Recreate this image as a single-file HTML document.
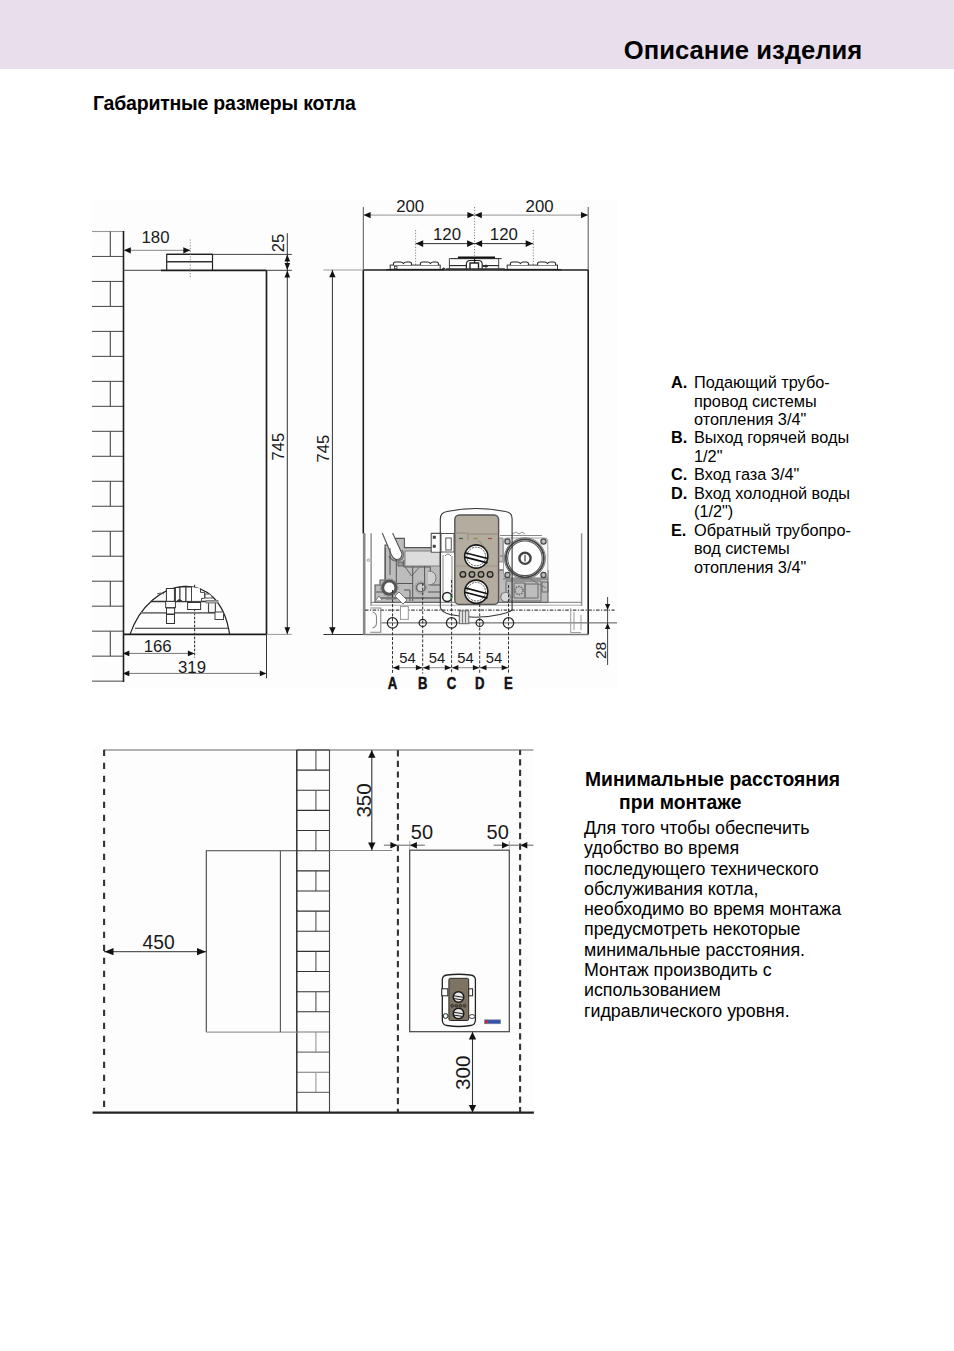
<!DOCTYPE html>
<html><head><meta charset="utf-8">
<style>
html,body{margin:0;padding:0;background:#fff;}
body{width:954px;height:1351px;position:relative;overflow:hidden;font-family:"Liberation Sans",sans-serif;color:#000;}
.t{position:absolute;white-space:nowrap;}
#hdr{position:absolute;left:0;top:0;width:954px;height:69px;background:#e8deec;}
#h1{left:623.8px;top:34.5px;font-size:25.6px;font-weight:bold;line-height:30px;}
#h2{left:93px;top:91px;font-size:19.5px;letter-spacing:-0.21px;font-weight:bold;line-height:24px;}
#leg{position:absolute;left:671px;top:0;font-size:16.3px;line-height:18.45px;}
#leg div{position:absolute;left:0;height:18.45px;white-space:nowrap;}
#leg b{position:absolute;left:0;top:0;}
#leg span{position:absolute;left:23px;top:0;}
#h3{left:585px;top:768px;font-size:19.3px;font-weight:bold;line-height:23px;}
#body{left:584px;top:818px;font-size:17.84px;line-height:20.3px;}
svg{position:absolute;left:0;top:0;}
</style></head>
<body>
<div id="hdr"></div>
<div class="t" id="h1">Описание изделия</div>
<div class="t" id="h2">Габаритные размеры котла</div>
<div id="leg">
<div style="top:373.40px"><b>A.</b><span>Подающий трубо-</span></div>
<div style="top:392.30px"><span>провод системы</span></div>
<div style="top:410.40px"><span>отопления 3/4"</span></div>
<div style="top:428.20px"><b>B.</b><span>Выход горячей воды</span></div>
<div style="top:447.10px"><span>1/2"</span></div>
<div style="top:464.90px"><b>C.</b><span>Вход газа 3/4"</span></div>
<div style="top:484.40px"><b>D.</b><span>Вход холодной воды</span></div>
<div style="top:502.40px"><span>(1/2")</span></div>
<div style="top:521.10px"><b>E.</b><span>Обратный трубопро-</span></div>
<div style="top:539.40px"><span>вод системы</span></div>
<div style="top:558.10px"><span>отопления 3/4"</span></div>
</div>
<div class="t" id="h3">Минимальные расстояния<br><span style="padding-left:34px">при монтаже</span></div>
<div class="t" id="body">Для того чтобы обеспечить<br>удобство во время<br>последующего технического<br>обслуживания котла,<br>необходимо во время монтажа<br>предусмотреть некоторые<br>минимальные расстояния.<br>Монтаж производить с<br>использованием<br>гидравлического уровня.</div>
<svg width="954" height="1351" viewBox="0 0 954 1351" font-family="Liberation Sans, sans-serif">
<rect x="92" y="200" width="525" height="489" fill="#fdfdfd"/>
<rect x="92" y="749" width="442" height="365" fill="#fdfdfd"/>
<line x1="92" y1="231.5" x2="123.5" y2="231.5" stroke="#999" stroke-width="1.1" />
<line x1="110.3" y1="231.5" x2="110.3" y2="256.48" stroke="#444" stroke-width="1.1" />
<line x1="92" y1="256.48" x2="123.5" y2="256.48" stroke="#555" stroke-width="1.1" />
<line x1="92" y1="281.46" x2="123.5" y2="281.46" stroke="#555" stroke-width="1.1" />
<line x1="110.3" y1="281.46" x2="110.3" y2="306.44" stroke="#444" stroke-width="1.1" />
<line x1="92" y1="306.44" x2="123.5" y2="306.44" stroke="#555" stroke-width="1.1" />
<line x1="92" y1="331.42" x2="123.5" y2="331.42" stroke="#555" stroke-width="1.1" />
<line x1="110.3" y1="331.42" x2="110.3" y2="356.40000000000003" stroke="#444" stroke-width="1.1" />
<line x1="92" y1="356.4" x2="123.5" y2="356.4" stroke="#555" stroke-width="1.1" />
<line x1="92" y1="381.38" x2="123.5" y2="381.38" stroke="#555" stroke-width="1.1" />
<line x1="110.3" y1="381.38" x2="110.3" y2="406.36" stroke="#444" stroke-width="1.1" />
<line x1="92" y1="406.36" x2="123.5" y2="406.36" stroke="#555" stroke-width="1.1" />
<line x1="92" y1="431.34000000000003" x2="123.5" y2="431.34000000000003" stroke="#555" stroke-width="1.1" />
<line x1="110.3" y1="431.34000000000003" x2="110.3" y2="456.32000000000005" stroke="#444" stroke-width="1.1" />
<line x1="92" y1="456.32" x2="123.5" y2="456.32" stroke="#555" stroke-width="1.1" />
<line x1="92" y1="481.3" x2="123.5" y2="481.3" stroke="#555" stroke-width="1.1" />
<line x1="110.3" y1="481.3" x2="110.3" y2="506.28000000000003" stroke="#444" stroke-width="1.1" />
<line x1="92" y1="506.28000000000003" x2="123.5" y2="506.28000000000003" stroke="#555" stroke-width="1.1" />
<line x1="92" y1="531.26" x2="123.5" y2="531.26" stroke="#555" stroke-width="1.1" />
<line x1="110.3" y1="531.26" x2="110.3" y2="556.24" stroke="#444" stroke-width="1.1" />
<line x1="92" y1="556.24" x2="123.5" y2="556.24" stroke="#555" stroke-width="1.1" />
<line x1="92" y1="581.22" x2="123.5" y2="581.22" stroke="#555" stroke-width="1.1" />
<line x1="110.3" y1="581.22" x2="110.3" y2="606.2" stroke="#444" stroke-width="1.1" />
<line x1="92" y1="606.2" x2="123.5" y2="606.2" stroke="#555" stroke-width="1.1" />
<line x1="92" y1="631.1800000000001" x2="123.5" y2="631.1800000000001" stroke="#555" stroke-width="1.1" />
<line x1="110.3" y1="631.1800000000001" x2="110.3" y2="656.1600000000001" stroke="#444" stroke-width="1.1" />
<line x1="92" y1="656.1600000000001" x2="123.5" y2="656.1600000000001" stroke="#555" stroke-width="1.1" />
<line x1="92" y1="681.14" x2="123.5" y2="681.14" stroke="#555" stroke-width="1.1" />
<line x1="123.5" y1="231" x2="123.5" y2="682" stroke="#1e1e1e" stroke-width="1.6" />
<line x1="123.5" y1="270.3" x2="161" y2="270.3" stroke="#444" stroke-width="1" />
<line x1="161" y1="270.3" x2="266.5" y2="270.3" stroke="#1e1e1e" stroke-width="1.7" />
<line x1="266.5" y1="270.3" x2="266.5" y2="634.4" stroke="#1e1e1e" stroke-width="1.7" />
<line x1="123.5" y1="634.4" x2="266.5" y2="634.4" stroke="#1e1e1e" stroke-width="1.7" />
<path d="M166.7,270.3 V254.4 H212.5 V270.3" fill="none" stroke="#222" stroke-width="1.2"/>
<line x1="166.7" y1="254.4" x2="212.5" y2="254.4" stroke="#1e1e1e" stroke-width="1.3" />
<line x1="166.7" y1="261.8" x2="212.5" y2="261.8" stroke="#333" stroke-width="1.5" />
<line x1="190.3" y1="239.5" x2="190.3" y2="279" stroke="#777" stroke-width="0.9" stroke-dasharray="1.2,1.6"/>
<line x1="123.5" y1="250.3" x2="190.3" y2="250.3" stroke="#777" stroke-width="0.9" />
<polygon points="123.80,250.30 130.80,247.20 130.80,253.40" fill="#111"/>
<polygon points="190.30,250.30 183.30,247.20 183.30,253.40" fill="#111"/>
<text x="155.5" y="243.2" text-anchor="middle" font-size="16.8" font-weight="normal" fill="#1a1a1a">180</text>
<line x1="212.5" y1="254.4" x2="291.8" y2="254.4" stroke="#444" stroke-width="1" />
<line x1="266.5" y1="270.3" x2="291.8" y2="270.3" stroke="#444" stroke-width="1" />
<line x1="287.3" y1="233.2" x2="287.3" y2="634.4" stroke="#333" stroke-width="1" />
<polygon points="287.30,254.60 284.50,261.60 290.10,261.60" fill="#111"/>
<polygon points="287.30,270.10 284.50,263.10 290.10,263.10" fill="#111"/>
<polygon points="287.30,270.50 284.50,277.50 290.10,277.50" fill="#111"/>
<polygon points="287.30,634.20 284.50,627.20 290.10,627.20" fill="#111"/>
<text transform="translate(284,243) rotate(-90)" text-anchor="middle" font-size="16.5" font-weight="normal" fill="#1a1a1a">25</text>
<text transform="translate(284,446.7) rotate(-90)" text-anchor="middle" font-size="16.5" font-weight="normal" fill="#1a1a1a">745</text>
<line x1="266.5" y1="634.4" x2="291.7" y2="634.4" stroke="#999" stroke-width="1" />
<line x1="266.5" y1="634.4" x2="266.5" y2="678.2" stroke="#333" stroke-width="1" />
<line x1="194.6" y1="584.7" x2="194.6" y2="657.6" stroke="#333" stroke-width="1.1" stroke-dasharray="2.5,1.5"/>
<line x1="124" y1="653.4" x2="194.6" y2="653.4" stroke="#666" stroke-width="0.9" />
<polygon points="122.80,653.40 129.30,650.50 129.30,656.30" fill="#111"/>
<polygon points="194.40,653.40 187.90,650.50 187.90,656.30" fill="#111"/>
<text x="157.7" y="651.6" text-anchor="middle" font-size="16.8" font-weight="normal" fill="#1a1a1a">166</text>
<line x1="124" y1="673.4" x2="266.5" y2="673.4" stroke="#666" stroke-width="0.9" />
<polygon points="122.80,673.40 129.30,670.50 129.30,676.30" fill="#111"/>
<polygon points="266.30,673.40 259.80,670.50 259.80,676.30" fill="#111"/>
<text x="192" y="672.8" text-anchor="middle" font-size="16.8" font-weight="normal" fill="#1a1a1a">319</text>
<path d="M130,634.4 C150.1,576.3 219.3,564.5 229.6,634.3" fill="none" stroke="#222" stroke-width="1.2"/>
<line x1="135" y1="628.3" x2="228.4" y2="628.3" stroke="#333" stroke-width="1.1" />
<line x1="141" y1="612.9" x2="224" y2="612.9" stroke="#777" stroke-width="1.6" />
<line x1="151" y1="601.4" x2="216.7" y2="601.4" stroke="#333" stroke-width="1.5" />
<rect x="166.4" y="588.5" width="8" height="12.9" stroke="#333" stroke-width="1" fill="#fff" />
<rect x="175.4" y="587.5" width="4.6" height="13.9" stroke="#333" stroke-width="1" fill="#fff" />
<rect x="180" y="587" width="6" height="14.4" stroke="#333" stroke-width="1" fill="#fff" />
<rect x="186" y="587" width="5.5" height="14.4" stroke="#333" stroke-width="1" fill="#fff" />
<rect x="165.7" y="601.4" width="9.7" height="6.3" stroke="#333" stroke-width="1" fill="#fff" />
<rect x="166.5" y="608" width="8.1" height="6" stroke="#333" stroke-width="1" fill="#fff" />
<rect x="166.5" y="614.5" width="8" height="9" stroke="#333" stroke-width="1" fill="#fff" />
<path d="M191.5,587 v14.4 h10 v-3 h3 v-6 h-4 v-4" fill="#fff" stroke="#444" stroke-width="1"/>
<path d="M157,594 q3,-2 7,0" fill="none" stroke="#555" stroke-width="1"/>
<path d="M205,594 h5 l3,4 h-8 z" fill="#fff" stroke="#555" stroke-width="1"/>
<rect x="187.6" y="602.5" width="13" height="7" stroke="#333" stroke-width="1" fill="#fff" />
<rect x="208.5" y="602" width="6.9" height="10.5" stroke="#444" stroke-width="1.1" fill="#f4f4f4" />
<rect x="215" y="612" width="8.5" height="7.5" stroke="#444" stroke-width="1" fill="#fff" />
<rect x="206" y="600.5" width="12" height="2.5" stroke="#777" stroke-width="0.8" fill="#aaa" />
<path d="M177,601 q2,-3 5,0" fill="#333" stroke="#333" stroke-width="1"/>
<line x1="363.3" y1="270" x2="588.2" y2="270" stroke="#1e1e1e" stroke-width="1.5" />
<line x1="363.3" y1="207" x2="363.3" y2="270" stroke="#555" stroke-width="1" />
<line x1="363.3" y1="270" x2="363.3" y2="533.5" stroke="#1e1e1e" stroke-width="1.6" />
<line x1="588.2" y1="207" x2="588.2" y2="270" stroke="#555" stroke-width="1" />
<line x1="588.2" y1="270" x2="588.2" y2="634.5" stroke="#1e1e1e" stroke-width="1.6" />
<line x1="363.3" y1="634.5" x2="588.2" y2="634.5" stroke="#777" stroke-width="1.5" />
<line x1="363.3" y1="215.1" x2="588.2" y2="215.1" stroke="#888" stroke-width="0.9" />
<polygon points="363.60,215.10 370.60,211.90 370.60,218.30" fill="#111"/>
<polygon points="474.40,215.10 467.40,211.90 467.40,218.30" fill="#111"/>
<polygon points="474.80,215.10 481.80,211.90 481.80,218.30" fill="#111"/>
<polygon points="588.00,215.10 581.00,211.90 581.00,218.30" fill="#111"/>
<text x="410.2" y="212.3" text-anchor="middle" font-size="16.8" font-weight="normal" fill="#1a1a1a">200</text>
<text x="539.6" y="212.3" text-anchor="middle" font-size="16.8" font-weight="normal" fill="#1a1a1a">200</text>
<line x1="474.6" y1="207" x2="474.6" y2="270" stroke="#777" stroke-width="0.9" stroke-dasharray="1.2,1.6"/>
<line x1="415.6" y1="230" x2="415.6" y2="270" stroke="#777" stroke-width="0.9" stroke-dasharray="1.2,1.6"/>
<line x1="533.3" y1="230" x2="533.3" y2="270" stroke="#777" stroke-width="0.9" stroke-dasharray="1.2,1.6"/>
<line x1="415.6" y1="243.6" x2="533.3" y2="243.6" stroke="#333" stroke-width="1" />
<polygon points="415.90,243.60 423.20,240.20 423.20,247.00" fill="#111"/>
<polygon points="474.40,243.60 467.10,240.20 467.10,247.00" fill="#111"/>
<polygon points="474.80,243.60 482.10,240.20 482.10,247.00" fill="#111"/>
<polygon points="533.00,243.60 525.70,240.20 525.70,247.00" fill="#111"/>
<text x="447" y="240.0" text-anchor="middle" font-size="16.8" font-weight="normal" fill="#1a1a1a">120</text>
<text x="503.8" y="240.0" text-anchor="middle" font-size="16.8" font-weight="normal" fill="#1a1a1a">120</text>
<line x1="323.4" y1="270" x2="363.3" y2="270" stroke="#999" stroke-width="1" />
<line x1="323.4" y1="634.5" x2="363.3" y2="634.5" stroke="#333" stroke-width="1" />
<line x1="332.4" y1="270" x2="332.4" y2="634.5" stroke="#333" stroke-width="1" />
<polygon points="332.40,270.30 329.20,277.30 335.60,277.30" fill="#111"/>
<polygon points="332.40,634.20 329.20,627.20 335.60,627.20" fill="#111"/>
<text transform="translate(329.2,448.7) rotate(-90)" text-anchor="middle" font-size="16.5" font-weight="normal" fill="#1a1a1a">745</text>
<rect x="390.2" y="265.1" width="50.0" height="4.2" stroke="#333" stroke-width="1" fill="#fff" />
<line x1="386.2" y1="269.6" x2="444.2" y2="269.6" stroke="#222" stroke-width="1.2" />
<rect x="507.2" y="265.1" width="50.30000000000001" height="4.2" stroke="#333" stroke-width="1" fill="#fff" />
<line x1="503.2" y1="269.6" x2="561.5" y2="269.6" stroke="#222" stroke-width="1.2" />
<path d="M393.5,265.1 v-1.5 q0,-1.6 2,-1.6 h5 q2,0 3,1.5 q1,-1.5 3,-1.5 h3 q2,0 2,1.6 v1.5" fill="#fff" stroke="#222" stroke-width="1.1"/>
<path d="M420.4,265.1 v-1.5 q0,-1.6 2,-1.6 h5 q2,0 3,1.5 q1,-1.5 3,-1.5 h3 q2,0 2,1.6 v1.5" fill="#fff" stroke="#222" stroke-width="1.1"/>
<path d="M510.4,265.1 v-1.5 q0,-1.6 2,-1.6 h5 q2,0 3,1.5 q1,-1.5 3,-1.5 h3 q2,0 2,1.6 v1.5" fill="#fff" stroke="#222" stroke-width="1.1"/>
<path d="M537.6,265.1 v-1.5 q0,-1.6 2,-1.6 h5 q2,0 3,1.5 q1,-1.5 3,-1.5 h3 q2,0 2,1.6 v1.5" fill="#fff" stroke="#222" stroke-width="1.1"/>
<rect x="394.5" y="266.3" width="2.5" height="2.5" stroke="#333" stroke-width="0.8" fill="none" />
<path d="M441.6,269 q2,-3 4.2,0 z" fill="#333"/>
<path d="M449.4,269.3 V258.6 H498.7 V269.3" fill="#fff" stroke="#444" stroke-width="1"/>
<line x1="451" y1="258.6" x2="501.6" y2="258.6" stroke="#333" stroke-width="1" />
<line x1="458" y1="257.4" x2="495" y2="257.4" stroke="#111" stroke-width="1.6" />
<line x1="449.4" y1="265.6" x2="466.4" y2="265.6" stroke="#222" stroke-width="1.1" />
<line x1="482.2" y1="265.6" x2="498.7" y2="265.6" stroke="#222" stroke-width="1.1" />
<path d="M466.4,269.3 v-5 q0,-3.8 3.8,-3.8 h8.2 q3.8,0 3.8,3.8 v5" fill="#fff" stroke="#222" stroke-width="1.2"/>
<path d="M470,269 V263 H478.5 V269" fill="#fff" stroke="#222" stroke-width="1.4"/>
<line x1="474.6" y1="258.5" x2="474.6" y2="263" stroke="#222" stroke-width="1.3" />
<line x1="446" y1="269.2" x2="505" y2="269.2" stroke="#333" stroke-width="1.8" />
<path d="M483,266.5 h5 M486,264.5 v4" stroke="#333" stroke-width="1"/>
<line x1="371.1" y1="533.3" x2="371.1" y2="606" stroke="#8d8d8d" stroke-width="1.4" />
<line x1="581.6" y1="533.3" x2="581.6" y2="606" stroke="#8d8d8d" stroke-width="1.4" />
<line x1="364.2" y1="533" x2="364.2" y2="634.5" stroke="#888" stroke-width="2.6" />
<line x1="371" y1="602.3" x2="581.6" y2="602.3" stroke="#777" stroke-width="1" />
<line x1="371" y1="605.2" x2="581.6" y2="605.2" stroke="#aaa" stroke-width="1" />
<line x1="365" y1="610.2" x2="614.7" y2="610.2" stroke="#444" stroke-width="1.3" stroke-dasharray="3.5,1.5,1.2,1.5"/>
<line x1="381.4" y1="622.9" x2="617" y2="622.9" stroke="#555" stroke-width="1" />
<circle cx="368.4" cy="560.2" r="1.2" fill="none" stroke="#888" stroke-width="0.8"/>
<path d="M385,545 H394.8 V538.4 H404.4 V547.6 H440.5 V602.3 H375 V585 H380 V580 H385 Z" fill="#bcbcbc" stroke="#555" stroke-width="1.1"/>
<path d="M405,551 H440 V566 H405 Z" fill="#dcdcdc" stroke="#777" stroke-width="0.9"/>
<path d="M382.3,533 L391.5,555 Q394.5,561.5 400,558.5 Q403.5,555 400.8,551 L392.6,533" fill="#fff" stroke="#555" stroke-width="1.1"/>
<path d="M389,556 Q394,564 402,559 Q405,555 402,550" fill="none" stroke="#777" stroke-width="1.5"/>
<path d="M405.5,567.5 L411.6,576 L419,567.5" fill="none" stroke="#666" stroke-width="1"/>
<path d="M396.3,560 V583.5 H412.7 V567 M403.8,560 V567 H430.4 V585 M424.6,566 V586 M412.7,583.5 V601 M430.4,585 H440 M404,590 H410 V601 M385.3,548 V580 M390,548 V575 M376,592 H384 M428,592 H440" fill="none" stroke="#555" stroke-width="1"/>
<path d="M379,598 H440" fill="none" stroke="#666" stroke-width="1.6"/>
<path d="M428,571 q8,0 8,7 q0,7 -8,7" fill="#d0d0d0" stroke="#777" stroke-width="1"/>
<path d="M410,598 H440 M386,599 H396" fill="none" stroke="#777" stroke-width="1.2"/>
<path d="M398,562 h5 v4 h-5 z" fill="#999" stroke="#555" stroke-width="0.8"/>
<circle cx="389.3" cy="587.7" r="6.6" fill="#fff" stroke="#555" stroke-width="3"/>
<circle cx="389.3" cy="587.7" r="8.6" fill="none" stroke="#777" stroke-width="1" stroke-dasharray="2,1.5"/>
<circle cx="420.8" cy="587.5" r="4.3" fill="#cfcfcf" stroke="#6a6a6a" stroke-width="1.6"/>
<circle cx="420.8" cy="587.5" r="6" fill="none" stroke="#888" stroke-width="0.9" stroke-dasharray="1.5,1.2"/>
<path d="M395,596 l4,-4 l8,8 l-4,4 z" fill="#fff" stroke="#666" stroke-width="0.9"/>
<path d="M376,600 l3,-4 l3,4" fill="#fff" stroke="#666" stroke-width="0.9"/>
<path d="M431.2,533.4 H441 V552.3 H431.2 Z" fill="#fff" stroke="#555" stroke-width="1.1"/>
<rect x="433" y="536" width="2.6" height="2.6" stroke="#444" stroke-width="0.5" fill="#444" />
<rect x="433" y="545" width="2.6" height="2.6" stroke="#444" stroke-width="0.5" fill="#444" />
<rect x="400.5" y="606.4" width="7.8" height="13" stroke="#999" stroke-width="1" fill="#fff" />
<path d="M498,570 H548 V602.3 H498 Z" fill="#bdbdbd" stroke="#555" stroke-width="1"/>
<path d="M498,538 H503 V562 H498 Z" fill="#c6c6c6" stroke="#777" stroke-width="0.8"/>
<rect x="503.5" y="538" width="44.3" height="39.8" rx="3" fill="#f7f7f7" stroke="#999" stroke-width="0.9"/>
<circle cx="524.9" cy="558.3" r="20.5" fill="none" stroke="#777" stroke-width="1"/>
<circle cx="524.9" cy="558.3" r="19" fill="#fff" stroke="#444" stroke-width="1.8"/>
<circle cx="524.9" cy="558.3" r="17.3" fill="none" stroke="#555" stroke-width="1.1"/>
<circle cx="525" cy="558.3" r="5.6" fill="#fff" stroke="#444" stroke-width="2.4"/>
<line x1="525" y1="555" x2="525" y2="561.5" stroke="#444" stroke-width="1.2" />
<circle cx="507.5" cy="541.5" r="2.6" fill="#bbb" stroke="#444" stroke-width="1.2"/>
<circle cx="543.5" cy="541.5" r="2.6" fill="#bbb" stroke="#444" stroke-width="1.2"/>
<circle cx="507.5" cy="575" r="2.6" fill="#bbb" stroke="#444" stroke-width="1.2"/>
<circle cx="543.5" cy="575" r="2.6" fill="#bbb" stroke="#444" stroke-width="1.2"/>
<path d="M506,581 H541 V601 H506 Z M514,583 H525 V598 H514 Z M525,584 H538 V598 H525 Z M542,582 H548 V592 H542 Z M503,579 L548,579" fill="none" stroke="#6a6a6a" stroke-width="1"/>
<circle cx="519" cy="590.5" r="4" fill="none" stroke="#666" stroke-width="1.5" stroke-dasharray="1.5,1"/>
<path d="M530,579 L546,588 M500,570 H503 M500,556 H503" fill="none" stroke="#777" stroke-width="1"/>
<circle cx="505.5" cy="597" r="4.8" fill="#d8d8d8" stroke="#777" stroke-width="1.1"/>
<path d="M512,534 l4,-2 l3,2 l3,-2 l3,2" fill="none" stroke="#777" stroke-width="0.8"/>
<line x1="500" y1="535.5" x2="542" y2="535.5" stroke="#888" stroke-width="1" />
<path d="M440.3,607 V519 Q440.3,512.5 447,511.5 Q476,505.5 505.5,511.5 Q512.1,512.5 512.1,519 V610" fill="none" stroke="#333" stroke-width="1.1"/>
<path d="M440.3,607 Q441,612 450,614.5 Q476,620 500,614.5 Q509,612.5 512.1,610" fill="none" stroke="#333" stroke-width="1.1"/>
<path d="M441,533.5 H454 V552 H441 Z" fill="#fff" stroke="#555" stroke-width="1"/>
<rect x="445.8" y="538" width="5.5" height="12" stroke="#555" stroke-width="1" fill="#fff" />
<path d="M443,555 V598 M452,556 V598" fill="none" stroke="#888" stroke-width="1"/>
<path d="M445,556 q3,-4 6,0" fill="none" stroke="#777" stroke-width="1"/>
<rect x="454.8" y="515" width="43.8" height="89.4" rx="4.5" fill="#b4ac9e" stroke="#555" stroke-width="1.4"/>
<line x1="455" y1="533" x2="468" y2="533" stroke="#8f887c" stroke-width="1" />
<line x1="455" y1="566" x2="498" y2="566" stroke="#9a9386" stroke-width="0.8" />
<path d="M459,538.5 h4" stroke="#3f6a4a" stroke-width="1.3"/>
<path d="M473.5,538.5 h4" stroke="#8a8a40" stroke-width="1.3"/>
<path d="M488,538.5 h4" stroke="#a05040" stroke-width="1.3"/>
<path d="M468,540 V534 H498 M478,541 q4,1 4,4" fill="none" stroke="#8f887c" stroke-width="1"/>
<circle cx="476.25" cy="556.5" r="11.6" fill="#fff" stroke="#1a1a1a" stroke-width="1.6"/>
<circle cx="476.25" cy="556.5" r="9.3" fill="none" stroke="#555" stroke-width="1" stroke-dasharray="2,1"/>
<path d="M465,552.7 L487.5,558.5 M465,557.1 L487.5,562.9" stroke="#111" stroke-width="1.7"/>
<circle cx="476.25" cy="591.7" r="11.6" fill="#fff" stroke="#1a1a1a" stroke-width="1.6"/>
<circle cx="476.25" cy="591.7" r="9.3" fill="none" stroke="#555" stroke-width="1" stroke-dasharray="2,1"/>
<path d="M465,587.9000000000001 L487.5,593.7 M465,592.3000000000001 L487.5,598.1" stroke="#111" stroke-width="1.7"/>
<circle cx="462.9" cy="574.4" r="2.8" fill="#a39c90" stroke="#222" stroke-width="1.3"/>
<circle cx="472" cy="574.4" r="2.8" fill="#a39c90" stroke="#222" stroke-width="1.3"/>
<circle cx="481" cy="574.4" r="2.8" fill="#a39c90" stroke="#222" stroke-width="1.3"/>
<circle cx="490.1" cy="574.4" r="2.8" fill="#a39c90" stroke="#222" stroke-width="1.3"/>
<circle cx="447.2" cy="597" r="4.5" fill="#fff" stroke="#222" stroke-width="1.5"/>
<path d="M450.5,595 a3,3 0 0 1 0,4" stroke="#3a3" stroke-width="1.5" fill="none"/>
<rect x="459.3" y="610.8" width="9.5" height="12.9" stroke="#666" stroke-width="1" fill="#ddd" />
<line x1="462.5" y1="611" x2="462.5" y2="623.5" stroke="#666" stroke-width="0.8" />
<line x1="465.5" y1="611" x2="465.5" y2="623.5" stroke="#666" stroke-width="0.8" />
<path d="M570.7,608.2 V632.6 H581 M574,612 V630 M581,615 V630" fill="none" stroke="#999" stroke-width="1"/>
<path d="M370.3,608 H380.8 V632.3 H370.3 M372.5,612 q4,1 4,5 v6 q0,4 -4,5" fill="none" stroke="#888" stroke-width="1.1"/>
<line x1="392.5" y1="590" x2="392.5" y2="673.6" stroke="#333" stroke-width="1" stroke-dasharray="3,1.7"/>
<circle cx="392.5" cy="622.9" r="5.2" fill="none" stroke="#222" stroke-width="1.2"/>
<line x1="422.7" y1="583" x2="422.7" y2="673.6" stroke="#333" stroke-width="1" stroke-dasharray="3,1.7"/>
<circle cx="422.7" cy="622.9" r="3.6" fill="none" stroke="#222" stroke-width="1.2"/>
<line x1="451.6" y1="580" x2="451.6" y2="673.6" stroke="#333" stroke-width="1" stroke-dasharray="3,1.7"/>
<circle cx="451.6" cy="622.9" r="5.2" fill="none" stroke="#222" stroke-width="1.2"/>
<line x1="479.7" y1="604" x2="479.7" y2="673.6" stroke="#333" stroke-width="1" stroke-dasharray="3,1.7"/>
<circle cx="479.7" cy="622.9" r="3.6" fill="none" stroke="#222" stroke-width="1.2"/>
<line x1="508.5" y1="585" x2="508.5" y2="673.6" stroke="#333" stroke-width="1" stroke-dasharray="3,1.7"/>
<circle cx="508.5" cy="622.9" r="5.2" fill="none" stroke="#222" stroke-width="1.2"/>
<line x1="392.5" y1="667.7" x2="508.5" y2="667.7" stroke="#888" stroke-width="1" />
<polygon points="392.80,667.70 399.30,665.10 399.30,670.30" fill="#111"/>
<polygon points="422.40,667.70 415.90,665.10 415.90,670.30" fill="#111"/>
<text x="407.40000000000003" y="663.3" text-anchor="middle" font-size="14.8" font-weight="normal" fill="#1a1a1a">54</text>
<polygon points="423.00,667.70 429.50,665.10 429.50,670.30" fill="#111"/>
<polygon points="451.30,667.70 444.80,665.10 444.80,670.30" fill="#111"/>
<text x="436.95" y="663.3" text-anchor="middle" font-size="14.8" font-weight="normal" fill="#1a1a1a">54</text>
<polygon points="451.90,667.70 458.40,665.10 458.40,670.30" fill="#111"/>
<polygon points="479.40,667.70 472.90,665.10 472.90,670.30" fill="#111"/>
<text x="465.45" y="663.3" text-anchor="middle" font-size="14.8" font-weight="normal" fill="#1a1a1a">54</text>
<polygon points="480.00,667.70 486.50,665.10 486.50,670.30" fill="#111"/>
<polygon points="508.20,667.70 501.70,665.10 501.70,670.30" fill="#111"/>
<text x="493.90000000000003" y="663.3" text-anchor="middle" font-size="14.8" font-weight="normal" fill="#1a1a1a">54</text>
<text transform="translate(392.5,688.7) scale(0.8,1)" text-anchor="middle" font-size="16.4" font-weight="bold" fill="#111" stroke="#111" stroke-width="0.5">A</text>
<text transform="translate(422.7,688.7) scale(0.8,1)" text-anchor="middle" font-size="16.4" font-weight="bold" fill="#111" stroke="#111" stroke-width="0.5">B</text>
<text transform="translate(451.6,688.7) scale(0.8,1)" text-anchor="middle" font-size="16.4" font-weight="bold" fill="#111" stroke="#111" stroke-width="0.5">C</text>
<text transform="translate(479.7,688.7) scale(0.8,1)" text-anchor="middle" font-size="16.4" font-weight="bold" fill="#111" stroke="#111" stroke-width="0.5">D</text>
<text transform="translate(508.5,688.7) scale(0.8,1)" text-anchor="middle" font-size="16.4" font-weight="bold" fill="#111" stroke="#111" stroke-width="0.5">E</text>
<line x1="607.6" y1="597" x2="607.6" y2="665" stroke="#444" stroke-width="1" />
<polygon points="607.60,610.00 605.00,604.00 610.20,604.00" fill="#111"/>
<polygon points="607.60,623.10 605.00,629.10 610.20,629.10" fill="#111"/>
<text transform="translate(605.6,650.4) rotate(-90)" text-anchor="middle" font-size="15.5" font-weight="normal" fill="#1a1a1a">28</text>
<line x1="104" y1="750" x2="533.4" y2="750" stroke="#999" stroke-width="1.3" />
<line x1="104.1" y1="749.8" x2="104.1" y2="1112" stroke="#333" stroke-width="2.1" stroke-dasharray="6.3,6.7"/>
<line x1="397.9" y1="750.3" x2="397.9" y2="1112" stroke="#333" stroke-width="2.1" stroke-dasharray="6.2,4.34"/>
<line x1="520.1" y1="750" x2="520.1" y2="1112" stroke="#333" stroke-width="2.1" stroke-dasharray="6.2,4.34" stroke-dashoffset="1.3"/>
<line x1="296.8" y1="750.0" x2="329.5" y2="750.0" stroke="#333" stroke-width="1.1" />
<line x1="315.9" y1="750.0" x2="315.9" y2="770.14" stroke="#555" stroke-width="1.1" />
<line x1="296.8" y1="770.14" x2="329.5" y2="770.14" stroke="#333" stroke-width="1.1" />
<line x1="296.8" y1="790.28" x2="329.5" y2="790.28" stroke="#333" stroke-width="1.1" />
<line x1="315.9" y1="790.28" x2="315.9" y2="810.42" stroke="#555" stroke-width="1.1" />
<line x1="296.8" y1="810.42" x2="329.5" y2="810.42" stroke="#333" stroke-width="1.1" />
<line x1="296.8" y1="830.56" x2="329.5" y2="830.56" stroke="#333" stroke-width="1.1" />
<line x1="315.9" y1="830.56" x2="315.9" y2="850.6999999999999" stroke="#555" stroke-width="1.1" />
<line x1="296.8" y1="850.7" x2="329.5" y2="850.7" stroke="#333" stroke-width="1.1" />
<line x1="296.8" y1="870.84" x2="329.5" y2="870.84" stroke="#333" stroke-width="1.1" />
<line x1="315.9" y1="870.84" x2="315.9" y2="890.98" stroke="#555" stroke-width="1.1" />
<line x1="296.8" y1="890.98" x2="329.5" y2="890.98" stroke="#333" stroke-width="1.1" />
<line x1="296.8" y1="911.12" x2="329.5" y2="911.12" stroke="#333" stroke-width="1.1" />
<line x1="315.9" y1="911.12" x2="315.9" y2="931.26" stroke="#555" stroke-width="1.1" />
<line x1="296.8" y1="931.26" x2="329.5" y2="931.26" stroke="#333" stroke-width="1.1" />
<line x1="296.8" y1="951.4" x2="329.5" y2="951.4" stroke="#333" stroke-width="1.1" />
<line x1="315.9" y1="951.4" x2="315.9" y2="971.54" stroke="#555" stroke-width="1.1" />
<line x1="296.8" y1="971.54" x2="329.5" y2="971.54" stroke="#333" stroke-width="1.1" />
<line x1="296.8" y1="991.6800000000001" x2="329.5" y2="991.6800000000001" stroke="#333" stroke-width="1.1" />
<line x1="315.9" y1="991.6800000000001" x2="315.9" y2="1011.82" stroke="#555" stroke-width="1.1" />
<line x1="296.8" y1="1011.8199999999999" x2="329.5" y2="1011.8199999999999" stroke="#333" stroke-width="1.1" />
<line x1="296.8" y1="1031.96" x2="329.5" y2="1031.96" stroke="#777" stroke-width="1.1" />
<line x1="315.9" y1="1031.96" x2="315.9" y2="1052.1000000000001" stroke="#999" stroke-width="1.1" />
<line x1="296.8" y1="1052.1" x2="329.5" y2="1052.1" stroke="#777" stroke-width="1.1" />
<line x1="296.8" y1="1072.24" x2="329.5" y2="1072.24" stroke="#777" stroke-width="1.1" />
<line x1="315.9" y1="1072.24" x2="315.9" y2="1092.38" stroke="#999" stroke-width="1.1" />
<line x1="296.8" y1="1092.38" x2="329.5" y2="1092.38" stroke="#777" stroke-width="1.1" />
<line x1="296.8" y1="750" x2="296.8" y2="1112.5" stroke="#222" stroke-width="1.4" />
<line x1="329.5" y1="750" x2="329.5" y2="1112.5" stroke="#444" stroke-width="1.1" />
<path d="M296.8,850.8 H206.3 V1032.1" fill="none" stroke="#444" stroke-width="1.1"/>
<line x1="206.3" y1="1032.1" x2="296.8" y2="1032.1" stroke="#999" stroke-width="1.2" />
<line x1="280.4" y1="850.8" x2="280.4" y2="1032.1" stroke="#555" stroke-width="1.1" />
<line x1="104" y1="951.7" x2="206.3" y2="951.7" stroke="#333" stroke-width="1" />
<polygon points="104.50,951.70 113.50,948.10 113.50,955.30" fill="#111"/>
<polygon points="206.00,951.70 197.00,948.10 197.00,955.30" fill="#111"/>
<text x="158.7" y="948.9" text-anchor="middle" font-size="19.3" font-weight="normal" fill="#1a1a1a">450</text>
<line x1="329.5" y1="850.5" x2="392.3" y2="850.5" stroke="#888" stroke-width="1.1" />
<line x1="371.8" y1="750" x2="371.8" y2="850.2" stroke="#333" stroke-width="1.1" />
<polygon points="371.80,750.30 368.10,757.80 375.50,757.80" fill="#111"/>
<polygon points="371.80,850.00 368.10,842.50 375.50,842.50" fill="#111"/>
<text transform="translate(371.0,800.4) rotate(-90)" text-anchor="middle" font-size="20.6" font-weight="normal" fill="#1a1a1a">350</text>
<rect x="409.7" y="850.2" width="99.6" height="181.5" stroke="#444" stroke-width="1.2" fill="none" />
<line x1="383.9" y1="845.2" x2="424.9" y2="845.2" stroke="#666" stroke-width="1" />
<polygon points="397.40,845.20 390.40,842.00 390.40,848.40" fill="#111"/>
<polygon points="409.90,845.20 416.90,842.00 416.90,848.40" fill="#111"/>
<line x1="493.6" y1="845.2" x2="533.4" y2="845.2" stroke="#666" stroke-width="1" />
<polygon points="509.00,845.20 502.00,842.00 502.00,848.40" fill="#111"/>
<polygon points="520.30,845.20 527.30,842.00 527.30,848.40" fill="#111"/>
<line x1="409.7" y1="841" x2="409.7" y2="850" stroke="#999" stroke-width="0.8" />
<line x1="509.3" y1="841" x2="509.3" y2="850" stroke="#999" stroke-width="0.8" />
<text x="421.9" y="839.2" text-anchor="middle" font-size="20" font-weight="normal" fill="#1a1a1a">50</text>
<text x="497.7" y="839.2" text-anchor="middle" font-size="20" font-weight="normal" fill="#1a1a1a">50</text>
<line x1="472.5" y1="1031.7" x2="472.5" y2="1112.7" stroke="#333" stroke-width="1.1" />
<polygon points="472.50,1032.00 468.80,1039.50 476.20,1039.50" fill="#111"/>
<polygon points="472.50,1112.40 468.80,1104.90 476.20,1104.90" fill="#111"/>
<text transform="translate(470.3,1072.8) rotate(-90)" text-anchor="middle" font-size="20.6" font-weight="normal" fill="#1a1a1a">300</text>
<line x1="92.6" y1="1112.6" x2="533.9" y2="1112.6" stroke="#222" stroke-width="2.2" />
<path d="M442.3,980 Q442.3,975.5 447,975 Q458.8,973.5 470.5,975 Q475.4,975.5 475.4,980 V1020 Q475.4,1025 470.5,1025.5 Q458.8,1027.5 447,1025.5 Q442.3,1025 442.3,1020 Z" fill="#fff" stroke="#222" stroke-width="1.3"/>
<rect x="448.9" y="978.3" width="19.8" height="42.2" rx="1.5" fill="#7e7363" stroke="#2a2a2a" stroke-width="1"/>
<rect x="441.8" y="988.8" width="6" height="7" stroke="#222" stroke-width="1" fill="#fff" />
<rect x="468.8" y="988.8" width="3.8" height="7" stroke="#222" stroke-width="1" fill="#fff" />
<circle cx="458.5" cy="997" r="5.3" fill="#e8e8e8" stroke="#1a1a1a" stroke-width="1.5"/>
<path d="M454,995.8 L463,997.3 M454,998.6 L463,1000" stroke="#222" stroke-width="1"/>
<circle cx="458.5" cy="1013.5" r="5.3" fill="#e8e8e8" stroke="#1a1a1a" stroke-width="1.5"/>
<path d="M454,1012.3 L463,1013.8 M454,1015.1 L463,1016.5" stroke="#222" stroke-width="1"/>
<circle cx="452.2" cy="1005.8" r="1.4" fill="#5a5246" stroke="#222" stroke-width="0.7"/>
<circle cx="456.3" cy="1005.8" r="1.4" fill="#5a5246" stroke="#222" stroke-width="0.7"/>
<circle cx="460.5" cy="1005.8" r="1.4" fill="#5a5246" stroke="#222" stroke-width="0.7"/>
<circle cx="464.6" cy="1005.8" r="1.4" fill="#5a5246" stroke="#222" stroke-width="0.7"/>
<circle cx="445.6" cy="1016" r="2.4" fill="#fff" stroke="#222" stroke-width="1"/>
<path d="M446.6,1014.6 a1.6,1.6 0 0 1 0,2.8" stroke="#3a3" stroke-width="0.8" fill="none"/>
<ellipse cx="472" cy="1016.5" rx="2.8" ry="2" fill="#fff" stroke="#333" stroke-width="0.9"/>
<rect x="484.4" y="1019.8" width="16.2" height="4" fill="#3552b0" stroke="#888" stroke-width="0.6"/>
<circle cx="486.6" cy="1021.8" r="1.5" fill="#d22"/>
</svg>
</body></html>
